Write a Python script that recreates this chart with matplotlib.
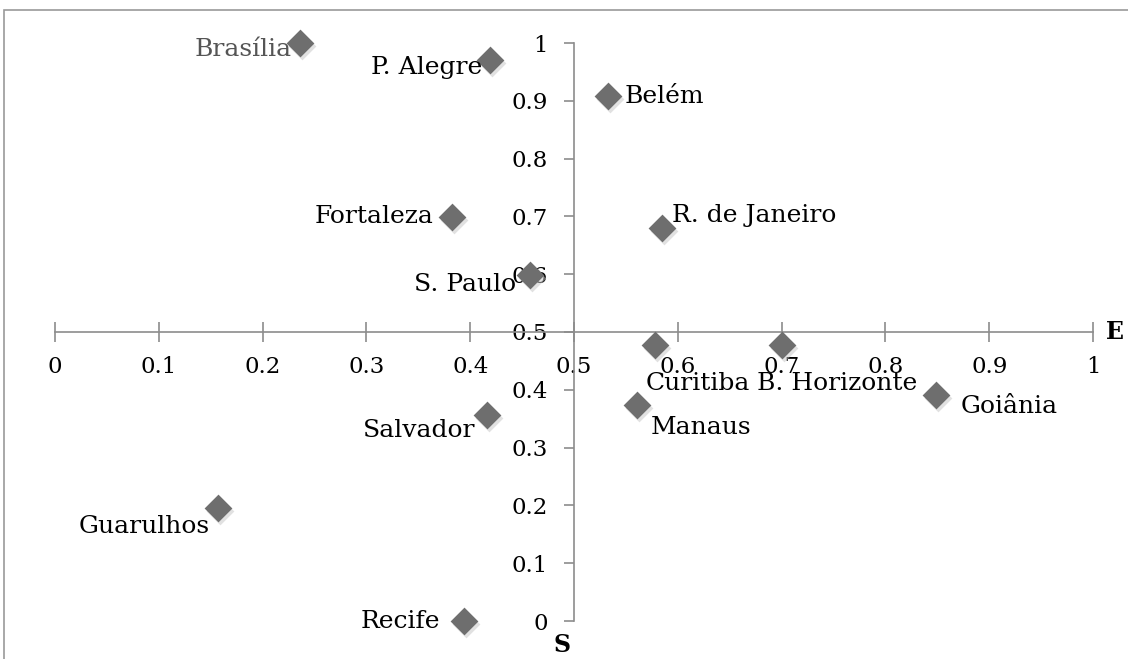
import matplotlib
matplotlib.use("Agg")
import matplotlib.pyplot as plt
from matplotlib.patches import Rectangle
from matplotlib.transforms import offset_copy

# data
cities = ["Brasília", "P. Alegre", "Belém", "Fortaleza", "R. de Janeiro", "S. Paulo",
          "Curitiba", "B. Horizonte", "Goiânia", "Manaus", "Salvador", "Guarulhos", "Recife"]
x_vals = [0.236, 0.419, 0.533, 0.382, 0.585, 0.458, 0.578, 0.700, 0.849, 0.561, 0.416, 0.157, 0.394]
y_vals = [1.000, 0.971, 0.908, 0.699, 0.680, 0.599, 0.478, 0.478, 0.391, 0.374, 0.356, 0.196, 0.000]
ticks = [0, 0.1, 0.2, 0.3, 0.4, 0.5, 0.6, 0.7, 0.8, 0.9, 1]
tick_labels = ["0", "0.1", "0.2", "0.3", "0.4", "0.5", "0.6", "0.7", "0.8", "0.9", "1"]

# label placement (pixel offsets, alignment)
label_pos = {
    "Brasília": (-8, -6, "right"),
    "P. Alegre": (-8, -8, "right"),
    "Belém": (16, 0, "left"),
    "Fortaleza": (-18, 0, "right"),
    "R. de Janeiro": (10, 12, "left"),
    "S. Paulo": (-14, -10, "right"),
    "Curitiba": (-9, -39, "left"),
    "B. Horizonte": (-25, -39, "left"),
    "Goiânia": (24, -11, "left"),
    "Manaus": (13, -23, "left"),
    "Salvador": (-11, -15, "right"),
    "Guarulhos": (-8, -19, "right"),
    "Recife": (-24, 0, "right"),
}

W, H = 1128, 659
fig = plt.figure(figsize=(W / 100, H / 100), dpi=100)
fig.patch.set_facecolor("white")

# outer chart frame (partly cut off)
fig.patches.append(Rectangle((4 / W, -0.1), 1.2, (H - 10) / H + 0.1, transform=fig.transFigure,
                             fill=False, edgecolor="#9a9a9a", linewidth=1.2))

ax = fig.add_axes([55 / W, (H - 621) / H, 1038 / W, 578 / H])
ax.set_xlim(0, 1)
ax.set_ylim(0, 1)
ax.patch.set_alpha(0)

axis_col = "#8c8c8c"
for side in ["top", "right"]:
    ax.spines[side].set_visible(False)
for side in ["left", "bottom"]:
    ax.spines[side].set_color(axis_col)
    ax.spines[side].set_linewidth(1.2)
ax.spines["left"].set_position(("data", 0.5))
ax.spines["bottom"].set_position(("data", 0.5))

ax.set_xticks(ticks)
ax.set_xticklabels(tick_labels)
ax.set_yticks(ticks)
ax.set_yticklabels(tick_labels)
ax.tick_params(axis="x", direction="inout", length=14, width=1.2, color=axis_col, pad=10,
               labelsize=16.5)
ax.tick_params(axis="y", direction="out", length=7, width=1.2, color=axis_col, pad=12,
               labelsize=16.5)
for lab in ax.get_xticklabels() + ax.get_yticklabels():
    lab.set_fontfamily("DejaVu Serif")

# soft shadow, then markers
shadow = offset_copy(ax.transData, fig=fig, x=2, y=-3, units="dots")
ax.scatter(x_vals, y_vals, marker="D", s=200, color="#c4c4c4", alpha=0.5, linewidths=0,
           transform=shadow, clip_on=False, zorder=3)
ax.scatter(x_vals, y_vals, marker="D", s=200, color="#6e6e6e", linewidths=0,
           clip_on=False, zorder=4)

for name, xv, yv in zip(cities, x_vals, y_vals):
    dx, dy, ha = label_pos[name]
    ax.annotate(name, (xv, yv), xytext=(dx, dy), textcoords="offset pixels",
                ha=ha, va="center", fontsize=18, family="DejaVu Serif",
                color="#555555" if name == "Brasília" else "black", zorder=5)

ax.text(1.012, 0.5, "E", transform=ax.transData, ha="left", va="center",
        fontsize=17, fontweight="bold", family="DejaVu Serif")
ax.text(0.488, -0.02, "S", transform=ax.transData, ha="center", va="top",
        fontsize=17, fontweight="bold", family="DejaVu Serif")

fig.savefig("out.png", dpi=100)
